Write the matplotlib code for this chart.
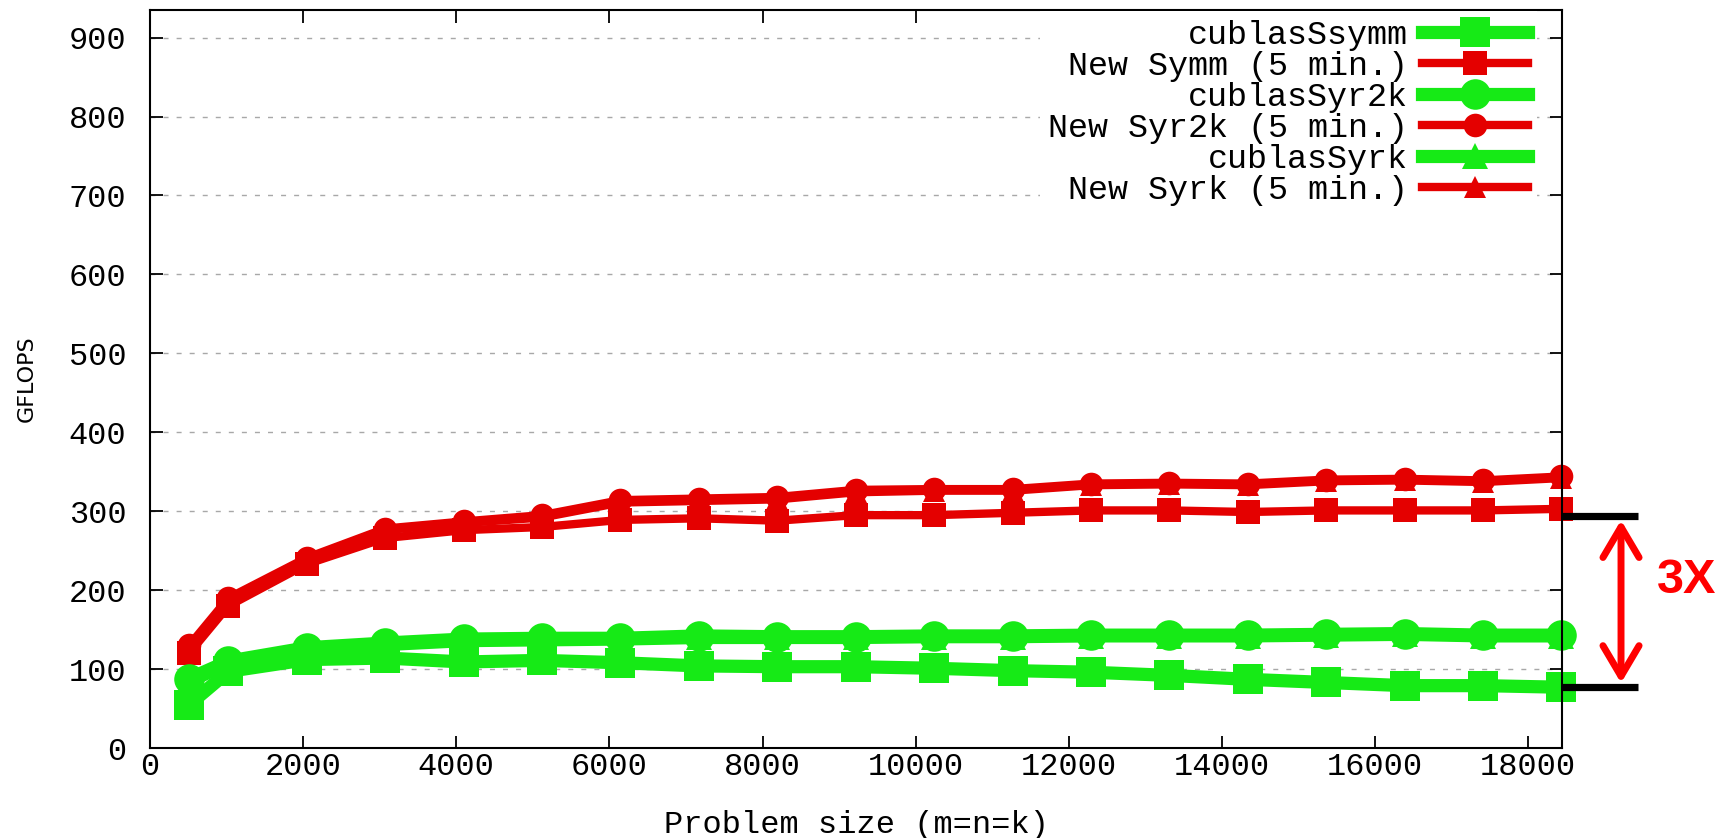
import matplotlib
matplotlib.use("Agg")
import matplotlib.pyplot as plt

# Problem sizes (m = n = k)
sizes = [512, 1024, 2048, 3072, 4096, 5120, 6144, 7168, 8192, 9216,
         10240, 11264, 12288, 13312, 14336, 15360, 16384, 17408, 18432]

# Measured GFLOPS
cublas_ssymm = [55, 97, 112, 114, 109, 111, 108, 104, 103, 103,
                101, 98, 96, 92, 87, 83, 79, 79, 77]
new_symm = [120, 180, 233, 266, 276, 280, 289, 291, 288, 295,
            295, 298, 301, 301, 299, 301, 301, 301, 303]
cublas_ssyr2k = [88, 110, 127, 133, 138, 139, 139, 142, 141, 141,
                 142, 142, 143, 143, 143, 144, 145, 143, 143]
new_syr2k = [130, 190, 241, 278, 287, 295, 314, 316, 318, 327,
             328, 328, 335, 336, 335, 340, 341, 339, 344]
cublas_ssyrk = [84, 108, 125, 131, 136, 137, 138, 140, 140, 140,
                141, 141, 142, 142, 142, 143, 144, 142, 142]
new_syrk = [127, 187, 238, 276, 285, 292, 311, 313, 315, 324,
            326, 326, 333, 334, 333, 338, 339, 337, 342]

series_labels = ["cublasSsymm", "New Symm (5 min.)", "cublasSyr2k",
                 "New Syr2k (5 min.)", "cublasSyrk", "New Syrk (5 min.)"]

x_ticks = list(range(0, 18001, 2000))
y_ticks = list(range(0, 901, 100))

# Speed-up bracket drawn to the right of the plot
speedup_top = 294
speedup_bottom = 77
speedup_label = "3X"

GREEN = "#16ea16"
RED = "#e40000"
ARROW_RED = "#ff0000"

plt.rcParams["font.family"] = ["Liberation Mono", "DejaVu Sans Mono"]

fig = plt.figure(figsize=(17.29, 8.38), dpi=100)
ax = fig.add_axes([150 / 1729, 1 - 748 / 838, 1412 / 1729, 738 / 838])

series = [
    (cublas_ssymm, GREEN, "s", 9.5, 21),
    (new_symm, RED, "s", 6, 17),
    (cublas_ssyr2k, GREEN, "o", 9.5, 22),
    (new_syr2k, RED, "o", 6, 17),
    (cublas_ssyrk, GREEN, "^", 9.5, 19),
    (new_syrk, RED, "^", 6, 16),
]
for (vals, col, mk, lw, ms), lab in zip(series, series_labels):
    ax.plot(sizes, vals, color=col, marker=mk, lw=lw, ms=ms,
            markeredgewidth=0, label=lab, clip_on=False)

ax.set_xlim(0, 18440)
ax.set_ylim(0, 935)
ax.set_xticks(x_ticks)
ax.set_yticks(y_ticks)
ax.set_xticklabels([str(v) for v in x_ticks])
ax.set_yticklabels([str(v) for v in y_ticks])

ax.yaxis.grid(True, color="#a8a8a8", linestyle=(0, (3.6, 5.8)), lw=1.0)
ax.set_axisbelow(True)

for sp in ax.spines.values():
    sp.set_linewidth(1.5)
    sp.set_color("black")

ax.tick_params(direction="in", length=9, width=1.3, top=True, right=True,
               labelsize=23, colors="black")
ax.tick_params(axis="y", pad=17)
ax.tick_params(axis="x", pad=3)

ax.set_xlabel("Problem size (m=n=k)", fontsize=23, labelpad=20)
ax.set_ylabel("GFLOPS", fontsize=16, family="DejaVu Sans")
ax.yaxis.set_label_coords(-0.080, 0.5)

leg = ax.legend(loc="upper right", bbox_to_anchor=(0.982, 0.998),
                markerfirst=False, fontsize=24, handlelength=3.2,
                handletextpad=0.4, labelspacing=0.0, borderpad=0.25,
                borderaxespad=0, frameon=True, fancybox=False,
                facecolor="white", edgecolor="none", framealpha=1.0)

# Speed-up bracket: bars in data units, placed just outside the right spine
trans = ax.get_yaxis_transform()
for level in (speedup_top, speedup_bottom):
    ax.plot([1.0, 1.054], [level, level], transform=trans, color="black",
            lw=5.2, solid_capstyle="butt", clip_on=False)
ax.annotate("", xy=(1.0418, speedup_bottom), xytext=(1.0418, speedup_top),
            xycoords=trans, textcoords=trans,
            arrowprops=dict(arrowstyle="<->,head_length=1.1,head_width=0.65",
                            mutation_scale=20, color=ARROW_RED, lw=5,
                            shrinkA=3, shrinkB=3))
ax.text(1.0885, 0.227, speedup_label, transform=ax.transAxes,
        ha="center", va="center", fontsize=35, fontweight="bold",
        family="Liberation Sans", color=ARROW_RED, clip_on=False)

fig.savefig("out.png", dpi=100, facecolor="white")
